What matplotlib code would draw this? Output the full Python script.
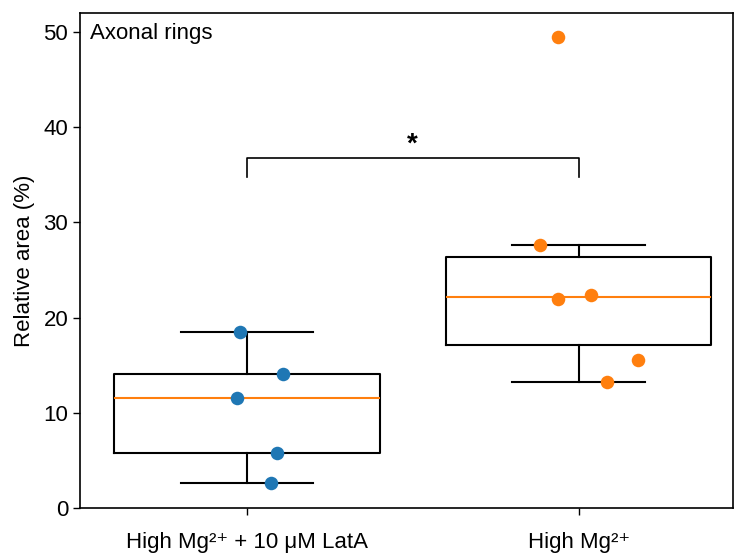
#!/usr/bin/env python3
import matplotlib
matplotlib.use("Agg")
import matplotlib.pyplot as plt
import numpy as np

# ---------------- data ----------------
group_labels = ["High Mg\u00b2\u207a + 10 \u03bcM LatA", "High Mg\u00b2\u207a"]
lata_vals = [18.5, 14.05, 11.55, 5.75, 2.63]
mg_vals = [49.5, 27.65, 21.95, 22.37, 15.55, 13.2]
lata_jitter = [-0.021, 0.108, -0.030, 0.090, 0.072]
mg_jitter = [-0.063, -0.117, -0.063, 0.036, 0.178, 0.084]
point_colors = ["#1f77b4", "#ff7f0e"]
sig_y = 36.8
sig_drop = 2.0
panel_title = "Axonal rings"
ylabel = "Relative area (%)"
yticks = [0, 10, 20, 30, 40, 50]

plt.rcParams["font.family"] = ["Liberation Sans", "DejaVu Sans"]

fig = plt.figure(figsize=(7.35, 5.54), dpi=100)
ax = fig.add_axes([0.1088, 0.083, 0.888, 0.8935])

data = [lata_vals, mg_vals]
positions = [0, 1]
lw = 1.5
ax.boxplot(data, positions=positions, widths=0.8, showfliers=False,
           boxprops=dict(color="black", linewidth=lw),
           whiskerprops=dict(color="black", linewidth=lw),
           capprops=dict(color="black", linewidth=lw),
           medianprops=dict(color="#ff7f0e", linewidth=lw))

for pos, vals, jit, c in zip(positions, data, [lata_jitter, mg_jitter], point_colors):
    xs = pos + np.array(jit)
    ax.scatter(xs, vals, s=95, color=c, zorder=3, linewidths=0)

# significance bracket
ax.plot([0, 0, 1, 1], [sig_y - sig_drop, sig_y, sig_y, sig_y - sig_drop],
        color="black", linewidth=1.2)
ax.text(0.5, sig_y + 0.0, "*", ha="center", va="bottom", fontsize=20,
        fontweight="bold")

ax.text(0.016, 0.958, panel_title, transform=ax.transAxes, ha="left",
        va="center", fontsize=16)

ax.set_xlim(-0.503, 1.464)
ax.set_ylim(0, 52)
ax.set_yticks(yticks)
ax.set_xticks(positions)
ax.set_xticklabels(group_labels)
ax.set_ylabel(ylabel, fontsize=16, labelpad=6)
ax.tick_params(axis="both", labelsize=16, direction="out", length=5, width=1)
ax.tick_params(axis="x", pad=12)
for sp in ax.spines.values():
    sp.set_linewidth(1.2)

fig.savefig("out.png", dpi=100)
